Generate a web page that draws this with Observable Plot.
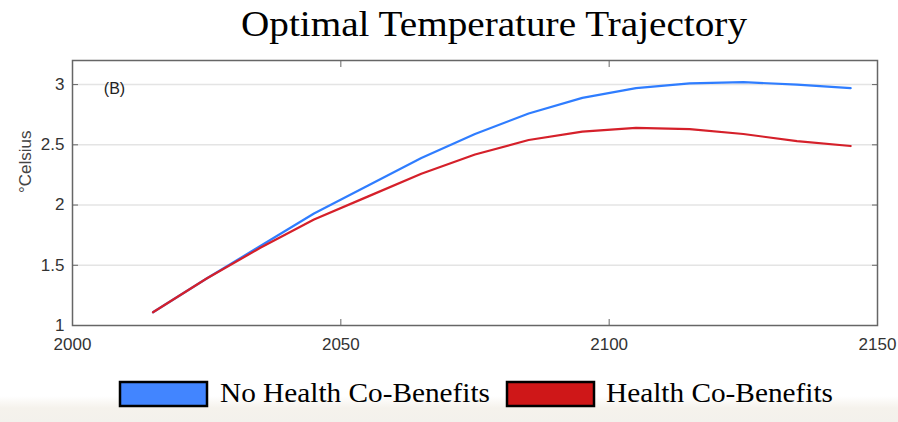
<!DOCTYPE html>
<html>
<head>
<meta charset="utf-8">
<script src="https://cdn.jsdelivr.net/npm/d3@7"></script>
<script src="https://cdn.jsdelivr.net/npm/@observablehq/plot@0.6"></script>
<style>
  html, body { margin: 0; padding: 0; }
  body { width: 898px; height: 422px; overflow: hidden;
         background: linear-gradient(to bottom, #ffffff 0px, #ffffff 396px, #f5f2ec 408px, #f3f1ec 422px); }
  #title, #legend { display: block; }
  #chart svg { display: block; }
</style>
</head>
<body>
<svg id="title" width="898" height="52"></svg>
<div id="chart"></div>
<svg id="legend" width="898" height="52"></svg>
<script>
// ---- data ----
const years = [2015, 2025, 2035, 2045, 2055, 2065, 2075, 2085, 2095, 2105, 2115, 2125, 2135, 2145];
const noHealth = [1.11, 1.39, 1.66, 1.93, 2.16, 2.39, 2.59, 2.76, 2.89, 2.97, 3.01, 3.02, 3.00, 2.97];
const withHealth = [1.11, 1.39, 1.645, 1.88, 2.07, 2.26, 2.42, 2.54, 2.61, 2.64, 2.63, 2.59, 2.53, 2.49];
const xTicks = [2000, 2050, 2100, 2150];
const yTicks = [1, 1.5, 2, 2.5, 3];
const seriesNames = ["No Health Co-Benefits", "Health Co-Benefits"];
const lineColors = ["#2f7dff", "#d5202a"];
const swatchColors = ["#4285ff", "#cf1718"];
const titleText = "Optimal Temperature Trajectory";
const yLabel = "°Celsius";
const panelLabel = "(B)";

const rows = [];
years.forEach((yr, i) => {
  rows.push({year: yr, value: noHealth[i], series: seriesNames[0]});
  rows.push({year: yr, value: withHealth[i], series: seriesNames[1]});
});

// ---- title ----
const NS = "http://www.w3.org/2000/svg";
const title = document.getElementById("title");
const t = document.createElementNS(NS, "text");
t.setAttribute("x", 241);
t.setAttribute("y", 36);
t.setAttribute("textLength", 506);
t.setAttribute("lengthAdjust", "spacingAndGlyphs");
t.setAttribute("font-family", "Liberation Serif, Times New Roman, serif");
t.setAttribute("font-size", "35");
t.setAttribute("fill", "#000");
t.textContent = titleText;
title.appendChild(t);

// ---- chart ----
const axisColor = "#666";
const chart = Plot.plot({
  width: 898,
  height: 318,
  marginLeft: 72,
  marginRight: 21,
  marginTop: 8,
  marginBottom: 45,
  x: {domain: [2000, 2150]},
  y: {domain: [1, 3.2]},
  color: {domain: seriesNames, range: lineColors},
  style: {fontFamily: "Liberation Sans, Arial, sans-serif", fontSize: "17px", color: "#333", background: "transparent"},
  marks: [
    Plot.gridY(yTicks.slice(1), {stroke: "#e4e4e4", strokeOpacity: 1, strokeWidth: 1.5}),
    Plot.line(rows, {x: "year", y: "value", stroke: "series", z: "series", strokeWidth: 2.2}),
    Plot.frame({stroke: axisColor, strokeWidth: 1.5}),
    // inward ticks on all four sides
    Plot.axisX(xTicks, {anchor: "bottom", tickSize: -6, tickFormat: () => "", stroke: axisColor, label: null}),
    Plot.axisX(xTicks, {anchor: "top", tickSize: -6, tickFormat: () => "", stroke: axisColor, label: null}),
    Plot.axisY(yTicks, {anchor: "left", tickSize: -6, tickFormat: () => "", stroke: axisColor, label: null}),
    Plot.axisY(yTicks, {anchor: "right", tickSize: -6, tickFormat: () => "", stroke: axisColor, label: null}),
    // tick labels
    Plot.axisX(xTicks, {anchor: "bottom", tickSize: 0, tickPadding: 12, tickFormat: d => String(d), label: null, fill: "#333", fontSize: 17}),
    Plot.axisY(yTicks, {anchor: "left", tickSize: 0, tickPadding: 8, tickFormat: d => String(d), label: null, fill: "#333", fontSize: 17}),
    Plot.text([yLabel], {frameAnchor: "left", rotate: -90, dx: -47, fill: "#444", fontSize: 17}),
    Plot.text([panelLabel], {frameAnchor: "top-left", dx: 42, dy: 28, textAnchor: "middle", lineAnchor: "middle", fill: "#222", fontSize: 16})
  ]
});
document.getElementById("chart").appendChild(chart);

// ---- legend ----
const legend = document.getElementById("legend");
const items = [
  {box: 120, text: 220, len: 270},
  {box: 507, text: 606, len: 227}
];
items.forEach((it, i) => {
  const r = document.createElementNS(NS, "rect");
  r.setAttribute("x", it.box);
  r.setAttribute("y", 12);
  r.setAttribute("width", 87);
  r.setAttribute("height", 24);
  r.setAttribute("fill", swatchColors[i]);
  r.setAttribute("stroke", "#000");
  r.setAttribute("stroke-width", 2.5);
  legend.appendChild(r);
  const tx = document.createElementNS(NS, "text");
  tx.setAttribute("x", it.text);
  tx.setAttribute("y", 32);
  tx.setAttribute("textLength", it.len);
  tx.setAttribute("lengthAdjust", "spacingAndGlyphs");
  tx.setAttribute("font-family", "Liberation Serif, Times New Roman, serif");
  tx.setAttribute("font-size", "28");
  tx.setAttribute("fill", "#000");
  tx.textContent = seriesNames[i];
  legend.appendChild(tx);
});
</script>
</body>
</html>
